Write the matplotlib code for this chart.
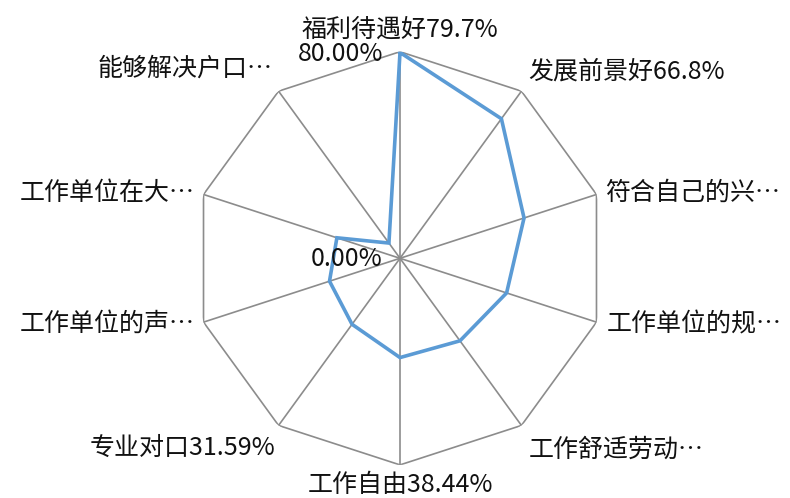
import numpy as np
import matplotlib
matplotlib.use("Agg")
import matplotlib.pyplot as plt

plt.rcParams['font.family'] = ['Noto Sans CJK SC', 'DejaVu Sans']

labels = ["福利待遇好79.7%", "发展前景好66.8%", "符合自己的兴…", "工作单位的规…",
          "工作舒适劳动…", "工作自由38.44%", "专业对口31.59%", "工作单位的声…",
          "工作单位在大…", "能够解决户口…"]
values = [79.7, 66.8, 50.5, 43.4, 39.5, 38.44, 31.59, 28.7, 25.7, 7.3]
rmax = 80.0
tick_labels = ["0.00%", "80.00%"]

n = len(labels)
theta = np.arange(n) * 2 * np.pi / n

W, H = 790, 498
fig = plt.figure(figsize=(W / 100, H / 100), dpi=100)
cx, cy, R = 400, 258.3, 206.6
ax = fig.add_axes([(cx - R) / W, (H - cy - R) / H, 2 * R / W, 2 * R / H], projection='polar')
ax.set_theta_zero_location('N')
ax.set_theta_direction(-1)
ax.set_ylim(0, rmax)
ax.grid(False)
ax.set_xticks([])
ax.set_yticks([])
ax.spines['polar'].set_visible(False)
ax.patch.set_visible(False)

grid_c = '#8c8c8c'
for t in theta:
    ax.plot([t, t], [0, rmax], color=grid_c, lw=1.2, zorder=1)
tc = np.append(theta, theta[0])
ax.plot(tc, [rmax] * (n + 1), color=grid_c, lw=1.2, zorder=1)

vc = np.append(values, values[0])
ax.plot(tc, vc, color='#5B9BD5', lw=2.6, zorder=3, solid_joinstyle='miter')

fs = 18
tcol = '#111111'
# label placement: (ha, dx, dy) in pixels relative to outer vertex
place = [('center', 0, 22), ('left', 7, 20), ('left', 9, 2), ('left', 10, -2),
         ('left', 7, -24), ('center', 0, -20), ('right', -3, -22), ('right', -9, -2),
         ('right', -9, 1), ('right', -6, 23)]
for t, lab, (ha, dx, dy) in zip(theta, labels, place):
    ax.annotate(lab, xy=(t, rmax), xytext=(dx, dy), textcoords='offset pixels',
                ha=ha, va='center', fontsize=fs, color=tcol, annotation_clip=False)

ax.annotate(tick_labels[1], xy=(0, rmax), xytext=(-17, -2), textcoords='offset pixels',
            ha='right', va='center', fontsize=fs, color=tcol, annotation_clip=False)
ax.annotate(tick_labels[0], xy=(0, 0), xytext=(-18, -1), textcoords='offset pixels',
            ha='right', va='center', fontsize=fs, color=tcol, annotation_clip=False)

fig.savefig('out.png', dpi=100)
